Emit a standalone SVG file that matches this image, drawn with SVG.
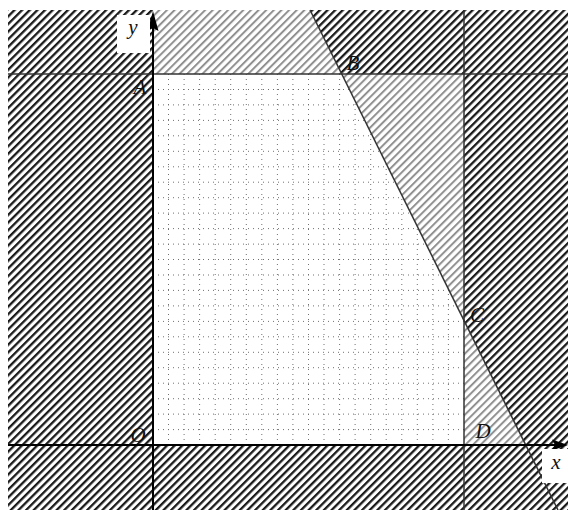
<svg xmlns="http://www.w3.org/2000/svg" width="568" height="510" viewBox="0 0 568 510">
<style>
.lbl{font-family:"Liberation Serif","DejaVu Serif",serif;font-style:italic;font-size:21px;fill:#111;text-anchor:middle}
.guide{stroke:#333;stroke-width:1.5;fill:none}
.axis{stroke:#000;stroke-width:2;fill:none}
.grid{stroke:#707070;stroke-width:1;stroke-dasharray:1 4;fill:none}
</style>
<defs>
<pattern id="hatchDark" patternUnits="userSpaceOnUse" width="10" height="5.4" patternTransform="rotate(-45)">
<rect x="0" y="0" width="10" height="5.4" fill="#fff"/>
<rect x="0" y="0" width="10" height="2.3" fill="#1a1a1a"/>
</pattern>
<pattern id="hatchLight" patternUnits="userSpaceOnUse" width="10" height="5.4" patternTransform="rotate(-45)">
<rect x="0" y="0" width="10" height="5.4" fill="#fff"/>
<rect x="0" y="0" width="10" height="2" fill="#909090"/>
</pattern>
<clipPath id="feasible">
<polygon points="153,74 341.7,74 464,320.5 464,445 153,445"/>
</clipPath>
</defs>
<rect width="568" height="510" fill="#fff"/>
<g id="grid" clip-path="url(#feasible)">
<path class="grid" d="M168.5,74V445M184.1,74V445M199.6,74V445M215.2,74V445M230.7,74V445M246.3,74V445M261.8,74V445M277.4,74V445M292.9,74V445M308.5,74V445M324,74V445M339.6,74V445M355.1,74V445M370.7,74V445M386.2,74V445M401.8,74V445M417.3,74V445M432.9,74V445M448.4,74V445"/>
<path class="grid" d="M153,89.5H464M153,104.9H464M153,120.4H464M153,135.8H464M153,151.3H464M153,166.8H464M153,182.2H464M153,197.7H464M153,213.1H464M153,228.6H464M153,244.1H464M153,259.5H464M153,275H464M153,290.4H464M153,305.9H464M153,321.4H464M153,336.8H464M153,352.3H464M153,367.7H464M153,383.2H464M153,398.7H464M153,414.1H464M153,429.6H464"/>
</g>
<g id="regions">
<rect x="8" y="10" width="145" height="500" fill="url(#hatchDark)"/>
<rect x="153" y="445" width="415" height="65" fill="url(#hatchDark)"/>
<polygon points="310,10 568,10 568,445 525.8,445 464,320.5 464,74 341.7,74" fill="url(#hatchDark)"/>
<polygon points="153,10 310,10 341.7,74 153,74" fill="url(#hatchLight)"/>
<polygon points="341.7,74 464,74 464,320.5" fill="url(#hatchLight)"/>
<polygon points="464,320.5 525.8,445 464,445" fill="url(#hatchLight)"/>
</g>
<g id="connectors">
<line class="guide" x1="8" y1="74" x2="568" y2="74"/>
<line class="guide" x1="464" y1="10" x2="464" y2="510"/>
<line class="guide" x1="310" y1="10" x2="558" y2="510"/>
<line class="axis" x1="8" y1="445" x2="556" y2="445"/>
<line class="axis" x1="153" y1="510" x2="153" y2="26"/>
<polygon points="568,445 552,439.5 555,445 552,450.5" fill="#000"/>
<polygon points="153,11 147.5,31 153,28 158.5,31" fill="#000"/>
</g>
<g id="label-y">
<rect x="117" y="15" width="33" height="38" fill="#fff"/>
<text class="lbl" x="133" y="34">y</text>
</g>
<g id="label-x">
<rect x="542" y="449" width="26" height="34" fill="#fff"/>
<text class="lbl" x="556" y="469">x</text>
</g>
<g id="point-A"><text class="lbl" x="140" y="94">A</text></g>
<g id="point-B"><text class="lbl" x="353" y="70">B</text></g>
<g id="point-C"><text class="lbl" x="477" y="322">C</text></g>
<g id="point-O"><text class="lbl" x="138" y="442">O</text></g>
<g id="point-D"><text class="lbl" x="483" y="438">D</text></g>
</svg>
